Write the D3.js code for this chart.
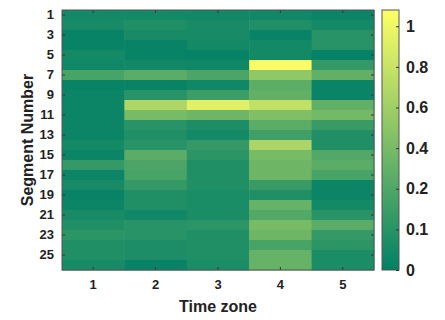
<!DOCTYPE html>
<html>
<head>
<meta charset="utf-8">
<script src="https://cdn.jsdelivr.net/npm/d3@7"></script>
<style>
  html, body { margin: 0; padding: 0; background: #fff; }
  svg { display: block; }
  text { font-family: "Liberation Sans", Arial, sans-serif; font-weight: bold; fill: #222; }
</style>
</head>
<body>
<div id="chart"></div>
<script>
// ---- data ----
const segments = d3.range(1, 27);
const timeZones = [1, 2, 3, 4, 5];
const segmentTickLabels = [1, 3, 5, 7, 9, 11, 13, 15, 17, 19, 21, 23, 25];
const colorbarTicks = [0, 0.1, 0.2, 0.4, 0.6, 0.8, 1];
const colorbarMax = 1.08;

const zone1 = [0.05,0.06,0.02,0.02,0.05,0.04,0.18,0.02,0.03,0.03,0.03,0.03,0.03,0.05,0.03,0.13,0.03,0.06,0.02,0.03,0.06,0.08,0.11,0.08,0.08,0.06];
const zone2 = [0.05,0.08,0.06,0.02,0.02,0.045,0.25,0.02,0.10,0.67,0.40,0.10,0.08,0.10,0.25,0.19,0.18,0.13,0.08,0.08,0.04,0.10,0.10,0.07,0.07,0.02];
const zone3 = [0.045,0.06,0.06,0.05,0.015,0.04,0.19,0.04,0.15,0.93,0.35,0.07,0.05,0.13,0.11,0.08,0.08,0.08,0.065,0.065,0.065,0.11,0.08,0.08,0.08,0.065];
const zone4 = [0.04,0.08,0.02,0.05,0.05,1.05,0.53,0.26,0.29,0.77,0.44,0.25,0.16,0.66,0.40,0.35,0.35,0.14,0.08,0.31,0.21,0.40,0.35,0.18,0.31,0.31];
const zone5 = [0.03,0.05,0.10,0.10,0.015,0.13,0.29,0.025,0.025,0.29,0.38,0.14,0.08,0.08,0.21,0.25,0.18,0.03,0.03,0.05,0.10,0.25,0.13,0.11,0.065,0.065];

const series = [zone1, zone2, zone3, zone4, zone5];

// ---- layout ----
const W = 445, H = 320;
const plot = { left: 62, top: 10, right: 374, bottom: 270 };
const cbar = { left: 382, right: 399 };

const svg = d3.select("#chart").append("svg").attr("width", W).attr("height", H);

const x = d3.scaleBand().domain(timeZones).range([plot.left, plot.right]);
const y = d3.scaleBand().domain(segments).range([plot.top, plot.bottom]);

// value -> evenly spaced colorbar position index (colorbar labels are evenly spaced)
const valueToIndex = d3.scaleLinear().domain(colorbarTicks).range(d3.range(colorbarTicks.length));
const topIndex = valueToIndex(colorbarMax);
const cbY = d3.scaleLinear().domain([0, topIndex]).range([plot.bottom, plot.top]);

// MATLAB "summer" colormap
const summer = t => {
  t = Math.max(0, Math.min(1, t));
  return d3.rgb(255 * t, 255 * (0.5 + 0.5 * t), 255 * 0.4);
};
const colorOf = v => summer(valueToIndex(v) / topIndex);

// ---- cells ----
const cells = [];
series.forEach((vals, ci) => vals.forEach((v, si) => cells.push({ zone: timeZones[ci], seg: segments[si], v })));

svg.append("g").selectAll("rect").data(cells).join("rect")
  .attr("x", d => x(d.zone))
  .attr("y", d => y(d.seg))
  .attr("width", x.bandwidth() + 0.5)
  .attr("height", y.bandwidth() + 0.5)
  .attr("fill", d => colorOf(d.v));

// ---- axes ----
const axisColor = "#333";
function styleAxis(g, showText) {
  g.select(".domain").remove();
  g.selectAll(".tick line").attr("stroke", axisColor);
  g.selectAll(".tick text").attr("font-size", 13).attr("fill", "#222").style("display", showText ? null : "none");
}

svg.append("g").attr("transform", `translate(${plot.left},0)`)
  .call(d3.axisLeft(y).tickValues(segmentTickLabels).tickSize(-3).tickPadding(8))
  .call(g => styleAxis(g, true));
svg.append("g").attr("transform", `translate(${plot.right},0)`)
  .call(d3.axisRight(y).tickValues(segmentTickLabels).tickSize(-3))
  .call(g => styleAxis(g, false));
svg.append("g").attr("transform", `translate(0,${plot.bottom})`)
  .call(d3.axisBottom(x).tickSize(-3).tickPadding(10))
  .call(g => styleAxis(g, true));
svg.append("g").attr("transform", `translate(0,${plot.top})`)
  .call(d3.axisTop(x).tickSize(-3))
  .call(g => styleAxis(g, false));

svg.append("rect")
  .attr("x", plot.left).attr("y", plot.top)
  .attr("width", plot.right - plot.left).attr("height", plot.bottom - plot.top)
  .attr("fill", "none").attr("stroke", "#555").attr("stroke-width", 1);

// ---- colorbar ----
const defs = svg.append("defs");
const grad = defs.append("linearGradient").attr("id", "cbgrad")
  .attr("x1", 0).attr("y1", 1).attr("x2", 0).attr("y2", 0);
d3.range(0, 1.0001, 0.05).forEach(t => grad.append("stop").attr("offset", t).attr("stop-color", summer(t)));

svg.append("rect")
  .attr("x", cbar.left).attr("y", plot.top)
  .attr("width", cbar.right - cbar.left).attr("height", plot.bottom - plot.top)
  .attr("fill", "url(#cbgrad)").attr("stroke", "#555").attr("stroke-width", 1);

const cbAxis = svg.append("g").attr("transform", `translate(${cbar.right},0)`)
  .call(d3.axisRight(d3.scaleLinear().domain(cbY.domain()).range(cbY.range()))
    .tickValues(colorbarTicks.map(v => valueToIndex(v)))
    .tickFormat((d, i) => String(colorbarTicks[i]))
    .tickSize(-3).tickPadding(7));
cbAxis.select(".domain").remove();
cbAxis.selectAll(".tick line").attr("stroke", axisColor);
cbAxis.selectAll(".tick text").attr("font-size", 16).attr("fill", "#222");

// ---- axis titles ----
svg.append("text")
  .attr("x", (plot.left + plot.right) / 2).attr("y", 312)
  .attr("text-anchor", "middle").attr("font-size", 16)
  .text("Time zone");

svg.append("text")
  .attr("transform", `translate(33,${(plot.top + plot.bottom) / 2}) rotate(-90)`)
  .attr("text-anchor", "middle").attr("font-size", 16)
  .text("Segment Number");
</script>
</body>
</html>
